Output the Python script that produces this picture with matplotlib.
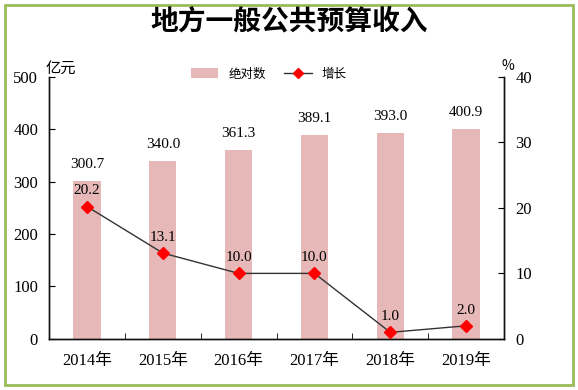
import numpy as np
import matplotlib as mpl
from matplotlib import pyplot as plt
from matplotlib.patches import Rectangle
from matplotlib.lines import Line2D
from matplotlib.patches import Patch

mpl.rcParams.update({"text.usetex": False})

years = ["2014年", "2015年", "2016年", "2017年", "2018年", "2019年"]
revenue = [300.7, 340.0, 361.3, 389.1, 393.0, 400.9]   # 亿元
growth = [20.2, 13.1, 10.0, 10.0, 1.0, 2.0]            # %

serif = ["Liberation Serif", "Noto Sans CJK SC"]
sans = ["Noto Sans CJK SC", "DejaVu Sans"]

fig = plt.figure(figsize=(5.78, 3.90), dpi=100)
ax = fig.add_axes([0.085, 0.131, 0.787, 0.672])
ax2 = ax.twinx()

x = np.arange(len(years))
ax.bar(x, revenue, width=0.36, color="#E6B9B8", zorder=1)
ax2.plot(x, growth, color="#333333", lw=1, marker="D", ms=6,
         mfc="#FF0000", mec="#FF0000", zorder=3)

for xi, v in zip(x, revenue):
    ax.text(xi, v + 19, f"{v:.1f}", ha="center", va="bottom",
            fontsize=11, family=serif)
for xi, g in zip(x, growth):
    ax2.text(xi, g + 1.4, f"{g:.1f}", ha="center", va="bottom",
             fontsize=11, family=serif)

ax.set_xlim(-0.5, len(years) - 0.5)
ax.set_ylim(0, 500)
ax2.set_ylim(0, 40)
ax.set_yticks(range(0, 501, 100))
ax2.set_yticks(range(0, 41, 10))
ax.set_xticks(x)
ax.set_xticklabels(years)
ax.set_xticks(np.arange(0.5, len(years) - 0.5), minor=True)

for a in (ax, ax2):
    a.spines["top"].set_visible(False)
    for s in a.spines.values():
        s.set_linewidth(1)
        s.set_color("#111111")
    a.tick_params(axis="y", direction="in", length=4, labelsize=12, pad=8)
    for lab in a.get_yticklabels():
        lab.set_family(serif)
ax.tick_params(axis="x", which="major", length=0, labelsize=12, pad=10)
ax.tick_params(axis="x", which="minor", direction="in", length=4)
for lab in ax.get_xticklabels():
    lab.set_family(serif)

fig.text(0.5, 0.944, "地方一般公共预算收入", ha="center", va="center",
         fontsize=20, fontweight="bold", family=sans)
fig.text(0.078, 0.826, "亿元", ha="left", va="center", fontsize=11, family=sans)
fig.text(0.868, 0.83, "%", ha="left", va="center", fontsize=10, family=sans)

handles = [Patch(facecolor="#E6B9B8"),
           Line2D([], [], color="#333333", lw=1, marker="D", ms=5,
                  mfc="#FF0000", mec="#FF0000")]
fig.legend(handles, ["绝对数", "增长"], loc="center", bbox_to_anchor=(0.465, 0.81),
           ncol=2, frameon=False, prop={"family": sans, "size": 9},
           handlelength=2.2, handleheight=0.8, columnspacing=1.5)

fig.patches.append(Rectangle((5 / 578, 5 / 390), 568 / 578, 380 / 390,
                             transform=fig.transFigure, fill=False,
                             edgecolor="#9BBB59", lw=2))

plt.savefig("out.png", dpi=100)
